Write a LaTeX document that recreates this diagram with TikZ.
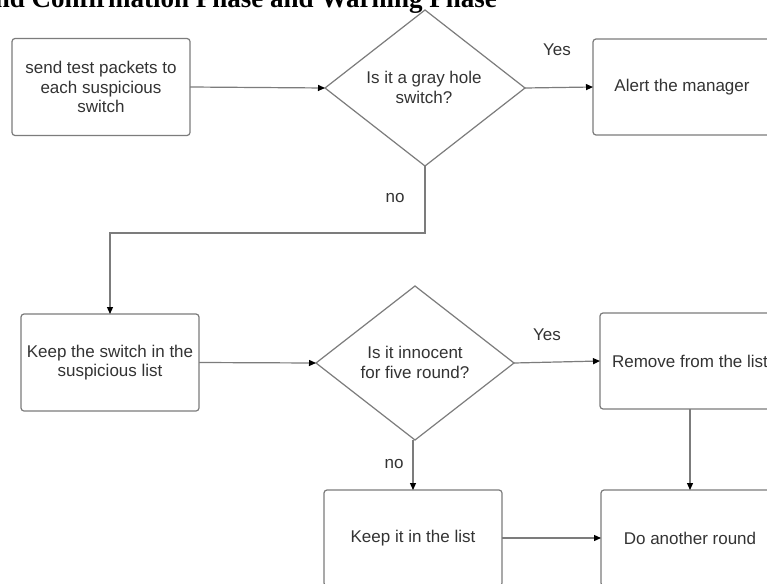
\documentclass[tikz,border=0pt]{standalone}
\usepackage{fontspec}
\setmainfont{Liberation Sans}
\newfontfamily\titlefont{Liberation Serif}
\usetikzlibrary{shapes.geometric,arrows.meta}
\definecolor{linegray}{HTML}{7C7C7C}
\definecolor{txtgray}{HTML}{333333}
\tikzset{
  stepbox/.style={draw=linegray, line width=1.2pt, rounded corners=3pt, minimum width=178pt, minimum height=97pt, inner sep=0pt, outer sep=0pt, align=center, text=txtgray, font=\fontsize{17}{19.5}\selectfont},
  dia/.style={draw=linegray, line width=1.2pt, diamond, minimum width=200pt, minimum height=156pt, inner sep=0pt, outer sep=0pt},
  diatxt/.style={align=center, text=txtgray, font=\fontsize{17}{19.5}\selectfont, inner sep=0pt},
  lbl/.style={text=txtgray, font=\fontsize{17}{19.5}\selectfont, inner sep=0pt},
  conn/.style={draw=linegray, line width=1.2pt},
  arr/.style={conn, -{Triangle[length=7pt,width=6pt,fill=black,color=black]}},
}
\begin{document}
\begin{tikzpicture}[x=1pt,y=-1pt]
\useasboundingbox (0,0) rectangle (767,583);
\clip (0,0) rectangle (767,583);
\fill[white] (0,0) rectangle (767,583);
% title
\node[anchor=base east, inner sep=0pt, font=\titlefont\bfseries\fontsize{27}{31}\selectfont] (title) at (497,8) {nd Confirmation Phase and Warning Phase};
% nodes
\node[stepbox] (send) at (101,87) {send test packets to\\each suspicious\\switch};
\node[dia] (d1) at (425,88) {};
\node[diatxt] (d1t) at (424,87.5) {Is it a gray hole\\switch?};
\node[stepbox, minimum height=96pt] (alert) at (682,87) {Alert the manager};
\node[stepbox] (keepsw) at (110,362.5) {Keep the switch in the\\suspicious list};
\node[dia, minimum width=198pt, minimum height=154pt] (d2) at (415,363) {};
\node[diatxt] (d2t) at (415,362.5) {Is it innocent\\for five round?};
\node[stepbox, minimum width=180pt, minimum height=96pt] (remove) at (690,361) {Remove from the list};
\node[stepbox, minimum height=96pt] (keep) at (413,538) {Keep it in the list};
\node[stepbox, minimum height=96pt] (again) at (690,538) {Do another round};
% coordinates
\coordinate (b1) at (425,233);
\coordinate (b2) at (110,233);
% connectors
\draw[arr] (send.east) -- (d1.west);
\draw[arr] (d1.east) -- (alert.west);
\draw[arr] (d1.south) -- (b1) -- (b2) -- (keepsw.north);
\draw[arr] (keepsw.east) -- (d2.west);
\draw[arr] (d2.east) -- (remove.west);
\draw[arr] (d2.south -| keep.north) -- (keep.north);
\draw[arr] (remove.south) -- (again.north);
\draw[arr] (keep.east) -- (again.west);
% labels
\node[lbl] (yes1) at (557,50) {Yes};
\node[lbl] (no1) at (395,198) {no};
\node[lbl] (yes2) at (547,335) {Yes};
\node[lbl] (no2) at (394,464) {no};
\end{tikzpicture}
\end{document}
